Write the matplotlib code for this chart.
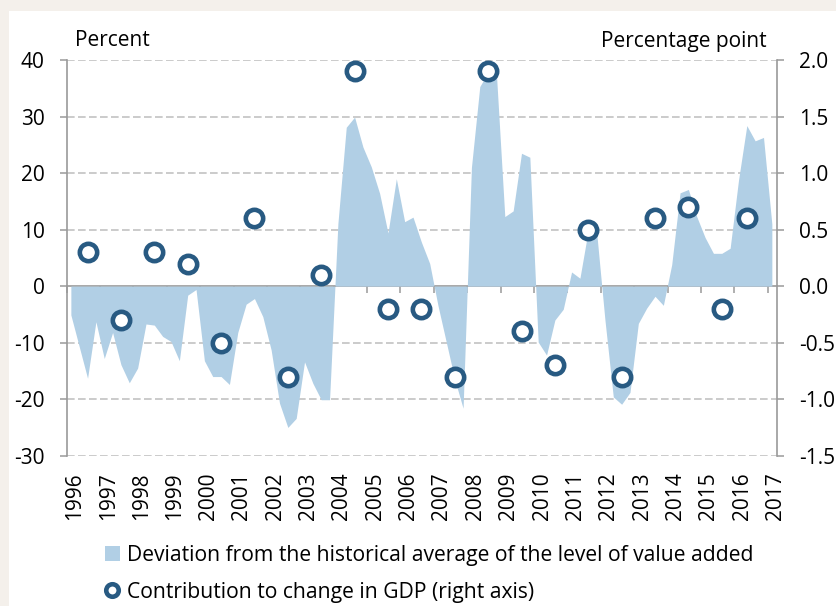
"""
Deviation of value added from its historical average, with GDP contribution markers
"""

import numpy as np
import matplotlib
matplotlib.use('Agg')
import matplotlib.pyplot as plt
from matplotlib.patches import Patch, Rectangle
from matplotlib.lines import Line2D

plt.rcParams['font.family'] = ['Open Sans', 'DejaVu Sans']
plt.rcParams['axes.unicode_minus'] = False

# quarterly deviation (percent), 1996Q1 .. 2017Q1
deviation = [
    -5.1, -10.7, -16.3, -6.3,     # 1996
    -12.8, -8.2, -13.9, -17.1,    # 1997
    -14.5, -6.7, -6.9, -8.9,      # 1998
    -9.8, -13.2, -1.6, -0.6,      # 1999
    -13.2, -16.0, -16.0, -17.4,   # 2000
    -8.2, -3.2, -2.2, -5.4,       # 2001
    -11.3, -20.7, -25.0, -23.4,   # 2002
    -13.4, -17.2, -20.1, -20.1,   # 2003
    11.1, 28.1, 29.9, 24.6,       # 2004
    21.1, 16.4, 9.4, 19.0,        # 2005
    11.4, 12.2, 7.8, 4.0,         # 2006
    -3.5, -10.0, -16.5, -21.6,    # 2007
    21.0, 35.3, 37.8, 37.4,       # 2008
    12.3, 13.3, 23.5, 22.8,       # 2009
    -9.9, -12.2, -6.0, -4.1,      # 2010
    2.5, 1.4, 9.9, 9.6,           # 2011
    -6.0, -19.6, -20.9, -18.8,    # 2012
    -6.6, -3.9, -1.8, -3.4,       # 2013
    3.8, 16.5, 17.1, 12.3,        # 2014
    8.6, 5.8, 5.8, 6.7,           # 2015
    18.7, 28.4, 25.7, 26.3,       # 2016
    11.0,                         # 2017
]
first_year = 1996

# contribution to change in GDP (percentage point, right axis)
gdp_dates = ['1996Q3', '1997Q3', '1998Q3', '1999Q3', '2000Q3', '2001Q3', '2002Q3',
             '2003Q3', '2004Q3', '2005Q3', '2006Q3', '2007Q3', '2008Q3', '2009Q3',
             '2010Q3', '2011Q3', '2012Q3', '2013Q3', '2014Q3', '2015Q3', '2016Q2']
gdp_contrib = [0.3, -0.3, 0.3, 0.2, -0.5, 0.6, -0.8, 0.1, 1.9, -0.2, -0.2,
               -0.8, 1.9, -0.4, -0.7, 0.5, -0.8, 0.6, 0.7, -0.2, 0.6]

years = list(range(1996, 2018))
left_ticks = [40, 30, 20, 10, 0, -10, -20, -30]
right_ticks = [2.0, 1.5, 1.0, 0.5, 0.0, -0.5, -1.0, -1.5]

area_color = '#b1cfe5'
dot_color = '#285a82'
grey = '#9a9a9a'
grid_grey = '#bdbdbd'
fs = 15

def to_year(q):
    # '1996Q3' -> mid of that quarter in fractional years
    return int(q[:4]) + (int(q[-1]) - 1) * 0.25 + 0.125

x_dev = first_year + 0.125 + 0.25 * np.arange(len(deviation))
x_gdp = [to_year(q) for q in gdp_dates]

fig = plt.figure(figsize=(8.36, 6.06), dpi=100)
fig.patch.set_facecolor('#f4f0eb')
fig.patches.append(Rectangle((9 / 836, 0), 1, 1 - 11 / 606, transform=fig.transFigure,
                             facecolor='white', edgecolor='none', zorder=-10))

ax = fig.add_axes([66.7 / 836, 1 - 455.7 / 606, 710 / 836, 395.7 / 606])
ax.set_facecolor('none')
ax.fill_between(x_dev, deviation, 0, color=area_color, linewidth=0, zorder=2)

ax.set_xlim(1996, 1996 + 710 / 33.38)
ax.set_ylim(-30, 40)
ax.set_yticks(left_ticks)
ax.set_yticklabels([str(t) for t in left_ticks])
for t in left_ticks:
    if t != 0:
        ax.axhline(t, color=grid_grey, lw=1.1, ls=(0, (5, 2.2)), zorder=1)

# year labels sit under the plot, the ticks themselves are on the zero line
ax.set_xticks([])
for y in years:
    ax.annotate(str(y), xy=(y, 0), xycoords=('data', 'axes fraction'),
                xytext=(5.8, -12), textcoords='offset points',
                rotation=90, ha='center', va='top', fontsize=fs)
ax.tick_params(axis='y', length=5, width=1.1, color=grey, pad=11, labelsize=fs, labelcolor='black')

for side in ['top', 'bottom', 'right']:
    ax.spines[side].set_visible(False)
ax.spines['left'].set_color(grey)
ax.spines['left'].set_linewidth(1.2)

zero_ax = ax.secondary_xaxis(3 / 7)
zero_ax.set_xticks(years)
zero_ax.tick_params(axis='x', direction='out', length=5, width=1.1, color=grey, labelbottom=False)
zero_ax.spines['bottom'].set_color(grey)
zero_ax.spines['bottom'].set_linewidth(1.2)

ax2 = ax.twinx()
ax2.set_ylim(-1.5, 2.0)
ax2.set_yticks(right_ticks)
ax2.set_yticklabels([f'{t:.1f}' for t in right_ticks])
ax2.tick_params(axis='y', length=5, width=1.1, color=grey, pad=11, labelsize=fs, labelcolor='black')
for side in ['top', 'bottom', 'left']:
    ax2.spines[side].set_visible(False)
ax2.spines['right'].set_color(grey)
ax2.spines['right'].set_linewidth(1.2)
ax2.plot(x_gdp, gdp_contrib, ls='none', marker='o', ms=12.5, mew=3.3,
         mec=dot_color, mfc='white', zorder=5, clip_on=False)

fig.text(75 / 836, 1 - 41 / 606, 'Percent', fontsize=fs, va='center', ha='left')
fig.text(767 / 836, 1 - 41 / 606, 'Percentage point', fontsize=fs, va='center', ha='right')

handles = [Patch(facecolor=area_color, edgecolor='none'),
           Line2D([], [], ls='none', marker='o', ms=9, mew=3.3, mec=dot_color, mfc='white')]
labels = ['Deviation from the historical average of the level of value added',
          'Contribution to change in GDP (right axis)']
fig.legend(handles, labels, loc='upper left', bbox_to_anchor=(105 / 836, 1 - 545 / 606),
           frameon=False, fontsize=15.2, handlelength=0.7, handleheight=0.7,
           handletextpad=0.35, labelspacing=0.75, borderaxespad=0, borderpad=0)

fig.savefig('out.png', dpi=100, facecolor=fig.get_facecolor())
